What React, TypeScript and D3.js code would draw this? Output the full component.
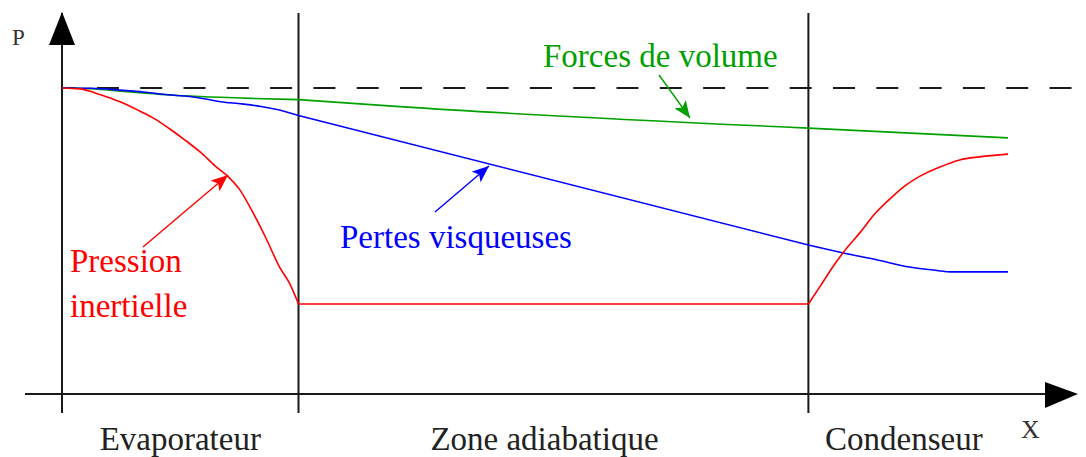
import React from "react";
import * as d3 from "d3";

// Position along the heat pipe (0..100) and pressure (0..100, 100 = reference)
const zoneBounds = [0, 25, 78.9];
const zoneLabels = ["Evaporateur", "Zone adiabatique", "Condenseur"];
const zoneLabelCenters = [12.5, 51, 89];

const greenX = [0, 3, 7.2, 11, 14.6, 20, 25, 35.7, 78.9, 100];
const greenP = [100, 99.8, 98.7, 97.8, 97.2, 96.6, 96.2, 93.9, 86.9, 83.7];

const blueX = [0, 3.1, 6.1, 8.8, 11.2, 13.5, 15.2, 16.8, 19.0, 21.2, 23.0, 25, 78.9, 82.6, 86.2, 89.6, 92.1, 94.2, 100];
const blueP = [100, 99.9, 99.3, 98.6, 97.8, 97.2, 96.4, 95.5, 94.8, 93.9, 92.8, 91.0, 48.7, 46.1, 43.8, 41.5, 40.5, 39.9, 39.9];

const redX = [0, 1.9, 3.5, 5.1, 6.7, 8.2, 9.8, 11.4, 13.0, 14.6, 16.2, 17.5, 18.8, 20.2, 21.5, 23.0, 24.1, 25, 78.9, 80.1, 81.4, 82.8, 84.4, 85.9, 87.5, 89.1, 90.7, 92.8, 94.9, 97.0, 100];
const redP = [100, 99.7, 98.4, 96.7, 94.8, 92.5, 89.9, 86.6, 83.0, 79.1, 74.5, 71.2, 66.7, 59.2, 51.3, 41.5, 35.9, 29.4, 29.4, 35.0, 41.2, 47.1, 52.9, 58.8, 63.7, 68.0, 71.2, 74.2, 76.5, 77.5, 78.4];

const referenceP = 100;

const W = 1086;
const H = 457;
const FONT = "'Liberation Serif', 'Times New Roman', serif";

const GREEN = "#00a000";
const BLUE = "#0000ff";
const RED = "#ff0000";
const AXIS = "#1a1a1a";

export default function App() {
  const x = d3.scaleLinear().domain([0, 100]).range([62, 1008]);
  const y = d3.scaleLinear().domain([0, 100]).range([394, 88]);

  const line = d3
    .line<[number, number]>()
    .x((d) => x(d[0]))
    .y((d) => y(d[1]))
    .curve(d3.curveMonotoneX);

  // split each series at the zone boundaries so corners stay sharp
  const segPath = (xs: number[], ps: number[]) => {
    const pts = xs.map((v, i) => [v, ps[i]] as [number, number]);
    const edges = [...zoneBounds, 100];
    let d = "";
    for (let k = 0; k < edges.length - 1; k++) {
      const seg = pts.filter((p) => p[0] >= edges[k] - 1e-9 && p[0] <= edges[k + 1] + 1e-9);
      if (seg.length > 1) d += line(seg) || "";
    }
    return d;
  };

  const axisY = y(0);
  const topY = 13;
  const bottomY = 413;

  return (
    <svg
      width={W}
      height={H}
      style={{ position: "absolute", left: 0, top: 0, background: "#fff" }}
    >
      <defs>
        {[
          ["arrRed", RED],
          ["arrBlue", BLUE],
          ["arrGreen", GREEN],
        ].map(([id, c]) => (
          <marker
            key={id}
            id={id}
            markerUnits="userSpaceOnUse"
            markerWidth={18}
            markerHeight={14}
            refX={17}
            refY={7}
            orient="auto"
          >
            <path d="M0,0 L17,7 L0,14 L4,7 Z" fill={c} />
          </marker>
        ))}
      </defs>

      {/* reference pressure dashed line */}
      <line
        x1={x(0)}
        x2={1072}
        y1={y(referenceP)}
        y2={y(referenceP)}
        stroke={AXIS}
        strokeWidth={2}
        strokeDasharray="22 21.3"
        strokeDashoffset={8.4}
      />

      {/* zone boundaries (first is the P axis) */}
      {zoneBounds.map((b, i) => (
        <line key={i} x1={x(b)} x2={x(b)} y1={topY} y2={bottomY} stroke={AXIS} strokeWidth={2} />
      ))}

      {/* horizontal axis */}
      <line x1={25} x2={1050} y1={axisY} y2={axisY} stroke={AXIS} strokeWidth={2} />
      <path d={`M1045,382 L1078,${axisY} L1045,408 Z`} fill="#000" />
      <path d={`M49,45 L${x(0)},12 L75,45 Z`} fill="#000" />

      {/* curves */}
      <path d={segPath(greenX, greenP)} fill="none" stroke={GREEN} strokeWidth={1.6} />
      <path d={segPath(blueX, blueP)} fill="none" stroke={BLUE} strokeWidth={1.6} />
      <path d={segPath(redX, redP)} fill="none" stroke={RED} strokeWidth={1.6} />

      {/* annotation arrows */}
      <line x1={143} y1={247} x2={228} y2={175} stroke={RED} strokeWidth={1.4} markerEnd="url(#arrRed)" />
      <line x1={435} y1={212} x2={489} y2={166} stroke={BLUE} strokeWidth={1.4} markerEnd="url(#arrBlue)" />
      <line x1={659} y1={75} x2={690} y2={118} stroke={GREEN} strokeWidth={1.4} markerEnd="url(#arrGreen)" />

      {/* annotation labels */}
      <g fontFamily={FONT} fontSize={33}>
        <text x={543} y={67} fill={GREEN}>Forces de volume</text>
        <text x={340} y={248} fill={BLUE}>Pertes visqueuses</text>
        <text x={70} y={272} fill={RED}>Pression</text>
        <text x={70} y={317} fill={RED}>inertielle</text>
        {zoneLabels.map((l, i) => (
          <text key={l} x={x(zoneLabelCenters[i])} y={450} textAnchor="middle" fill="#222">
            {l}
          </text>
        ))}
      </g>

      {/* axis names */}
      <text x={12} y={45} fontFamily={FONT} fontSize={23} fill="#333">P</text>
      <text x={1021} y={438} fontFamily={FONT} fontSize={26} fill="#333">X</text>
    </svg>
  );
}
